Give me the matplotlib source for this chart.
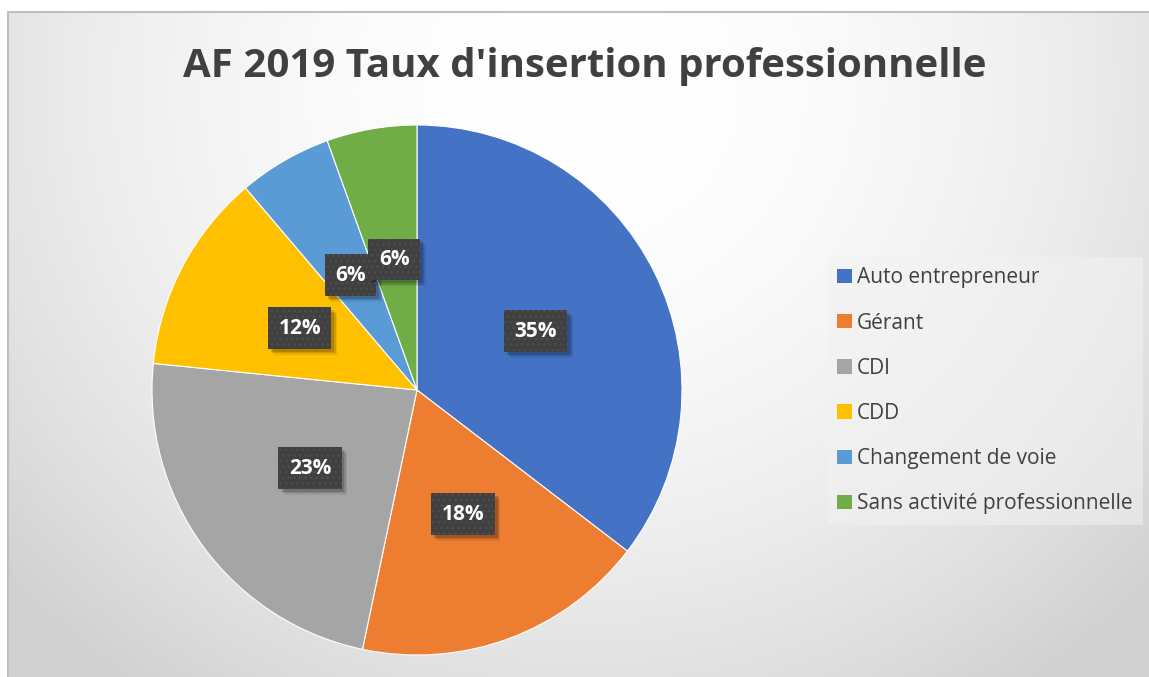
import numpy as np
import matplotlib
matplotlib.use('Agg')
import matplotlib.pyplot as plt
import matplotlib.patheffects as pe
from matplotlib.patches import Patch

# données (parts en %)
categories = ['Auto entrepreneur', 'Gérant', 'CDI', 'CDD',
              'Changement de voie', 'Sans activité professionnelle']
values = [35.4, 17.9, 23.3, 12.2, 5.7, 5.5]
colors = ['#4472C4', '#ED7D31', '#A5A5A5', '#FFC000', '#5B9BD5', '#70AD47']
title = "AF 2019 Taux d'insertion professionnelle"

W, H = 1149, 677
plt.rcParams['font.family'] = ['Open Sans', 'DejaVu Sans']
fig = plt.figure(figsize=(W / 100, H / 100), dpi=100)
fig.patch.set_facecolor('white')

# fond dégradé radial (style Excel)
bg = fig.add_axes([8 / W, 0, 1 - 8 / W, (H - 12) / H], zorder=-5)
yy, xx = np.mgrid[12:H, 8:W]
d = np.sqrt((xx - 580.0) ** 2 + ((yy - 90.0) * 1.05) ** 2)
v = 255 - 38 * np.clip(d / 700.0, 0, 1.1) ** 2
img = np.dstack([v, v, v]) / 255.0
bg.imshow(np.clip(img, 0, 1), aspect='auto', extent=(0, 1, 0, 1), origin='upper')
bg.set_xticks([])
bg.set_yticks([])
for s in ['right', 'bottom']:
    bg.spines[s].set_visible(False)
for s in ['left', 'top']:
    bg.spines[s].set_color('#bfbfbf')
    bg.spines[s].set_linewidth(1.5)

# camembert
cx, cy, r = 417, 390, 265
ax = fig.add_axes([(cx - r) / W, (H - cy - r) / H, 2 * r / W, 2 * r / H])
wedges, texts, autotexts = ax.pie(
    values, colors=colors, startangle=90, counterclock=False,
    autopct='%1.0f%%', pctdistance=0.5,
    wedgeprops=dict(edgecolor='white', linewidth=0.8),
    textprops=dict(color='white', fontsize=15, fontweight='bold'))
ax.set_xlim(-1, 1)
ax.set_ylim(-1, 1)
ax.set_aspect('equal')
ax.axis('off')

# étiquettes : boîte sombre avec ombre, puis motif pointillé par-dessus
box_pad = 'square,pad=0.5'
for t in autotexts:
    x, y = t.get_position()
    t.set_color((1, 1, 1, 0))
    t.set_bbox(dict(boxstyle=box_pad, facecolor='#404040',
                    edgecolor='none', linewidth=0))
    t.get_bbox_patch().set_path_effects([
        pe.SimplePatchShadow(offset=(4, -4), shadow_rgbFace='#000000', alpha=0.08),
        pe.SimplePatchShadow(offset=(3, -3), shadow_rgbFace='#000000', alpha=0.12),
        pe.SimplePatchShadow(offset=(2, -2), shadow_rgbFace='#000000', alpha=0.15),
        pe.Normal()])
    ax.text(x, y, t.get_text(), ha='center', va='center', color='white',
            fontsize=15, fontweight='bold', zorder=t.get_zorder() + 1,
            bbox=dict(boxstyle=box_pad, facecolor='none', edgecolor='#4e4e4e',
                      linewidth=0, hatch='...'))

# titre
fig.text(585 / W, 1 - 77 / H, title, ha='center', va='baseline',
         fontsize=29, fontweight='bold', color='#404040')

# légende
handles = [Patch(facecolor=c, edgecolor='none') for c in colors]
leg = fig.legend(handles, categories, loc='upper left',
                 bbox_to_anchor=(827 / W, 1 - 257 / H),
                 frameon=True, fontsize=15, handlelength=0.68,
                 handleheight=0.68, handletextpad=0.25, labelspacing=1.16,
                 borderpad=0.5, borderaxespad=0, fancybox=False,
                 labelcolor='#404040')
leg.get_frame().set_facecolor('#f2f2f2')
leg.get_frame().set_alpha(0.55)
leg.get_frame().set_edgecolor('none')

fig.savefig('out.png', dpi=100)
